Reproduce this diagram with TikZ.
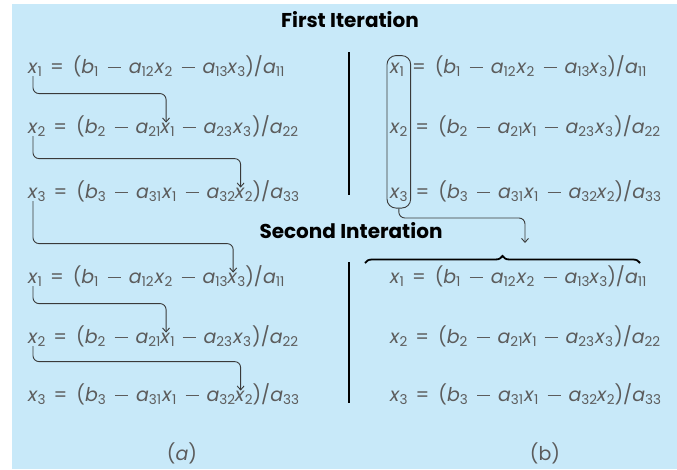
\documentclass[tikz,border=0pt]{standalone}
\usepackage{fontspec}
\setmainfont{Poppins}
\usetikzlibrary{arrows.meta,fit,decorations.pathreplacing,calc}
\definecolor{bg}{HTML}{C8E9F9}
\definecolor{eqc}{HTML}{5C5C5C}
\definecolor{arc}{HTML}{3A3A3A}
\newcommand\vv[2]{\textit{#1}\raisebox{-3pt}{\fontsize{13.5}{14}\selectfont #2}\hspace{1.2pt}}
\newcommand\mi{\hspace{8pt}\rule[5pt]{13pt}{1.1pt}\hspace{8pt}}
\newcommand\eqs{\hspace{8pt}=\hspace{9pt}}
\newcommand\eqrow[7]{%
  \node[eqtext, anchor=base west] (#1-l) at (#2,#3) {#4};
  \node[eqtext, anchor=base west] (#1-b) at (#1-l.base east) {#5};
  \node[eqtext, anchor=base west] (#1-t) at (#1-b.base east) {#6};
  \node[eqtext, anchor=base west] (#1-a) at (#1-t.base east) {#7};
}
\tikzset{
  eqtext/.style={inner sep=0pt, outer sep=0pt, text=eqc, font=\fontsize{19}{22}\selectfont},
  heading/.style={inner sep=0pt, text=black, font=\fontsize{20}{24}\selectfont\bfseries},
  arr/.style={draw=arc, line width=0.9pt, rounded corners=6pt, -{Straight Barb[length=4pt,width=7pt]}},
  divider/.style={draw=black, line width=1.2pt},
}
\begin{document}
\begin{tikzpicture}[x=1pt, y=-1pt]
\useasboundingbox (0,0) rectangle (677,469);
\fill[bg] (12,4) rectangle (677,469);
\node[heading] (h1) at (350,20) {First Iteration};
\node[heading] (h2) at (351,231) {Second Interation};
% left column
\eqrow{A1}{28}{73}{\vv{x}{1}}{\eqs(\vv{b}{1}\mi\vv{a}{12}\vv{x}{2}\mi\vv{a}{13}}{\vv{x}{3}}{)/\vv{a}{11}}
\eqrow{A2}{28}{133}{\vv{x}{2}}{\eqs(\vv{b}{2}\mi\vv{a}{21}}{\vv{x}{1}}{\mi\vv{a}{23}\vv{x}{3})/\vv{a}{22}}
\eqrow{A3}{28}{198}{\vv{x}{3}}{\eqs(\vv{b}{3}\mi\vv{a}{31}\vv{x}{1}\mi\vv{a}{32}}{\vv{x}{2}}{)/\vv{a}{33}}
\eqrow{B1}{28}{283}{\vv{x}{1}}{\eqs(\vv{b}{1}\mi\vv{a}{12}\vv{x}{2}\mi\vv{a}{13}}{\vv{x}{3}}{)/\vv{a}{11}}
\eqrow{B2}{28}{343}{\vv{x}{2}}{\eqs(\vv{b}{2}\mi\vv{a}{21}}{\vv{x}{1}}{\mi\vv{a}{23}\vv{x}{3})/\vv{a}{22}}
\eqrow{B3}{28}{401}{\vv{x}{3}}{\eqs(\vv{b}{3}\mi\vv{a}{31}\vv{x}{1}\mi\vv{a}{32}}{\vv{x}{2}}{)/\vv{a}{33}}
% right column
\eqrow{C1}{390}{73}{\vv{x}{1}}{\eqs(\vv{b}{1}\mi\vv{a}{12}\vv{x}{2}\mi\vv{a}{13}}{\vv{x}{3}}{)/\vv{a}{11}}
\eqrow{C2}{390}{133}{\vv{x}{2}}{\eqs(\vv{b}{2}\mi\vv{a}{21}}{\vv{x}{1}}{\mi\vv{a}{23}\vv{x}{3})/\vv{a}{22}}
\eqrow{C3}{390}{198}{\vv{x}{3}}{\eqs(\vv{b}{3}\mi\vv{a}{31}\vv{x}{1}\mi\vv{a}{32}}{\vv{x}{2}}{)/\vv{a}{33}}
\eqrow{D1}{390}{283}{\vv{x}{1}}{\eqs(\vv{b}{1}\mi\vv{a}{12}\vv{x}{2}\mi\vv{a}{13}}{\vv{x}{3}}{)/\vv{a}{11}}
\eqrow{D2}{390}{343}{\vv{x}{2}}{\eqs(\vv{b}{2}\mi\vv{a}{21}}{\vv{x}{1}}{\mi\vv{a}{23}\vv{x}{3})/\vv{a}{22}}
\eqrow{D3}{390}{401}{\vv{x}{3}}{\eqs(\vv{b}{3}\mi\vv{a}{31}\vv{x}{1}\mi\vv{a}{32}}{\vv{x}{2}}{)/\vv{a}{33}}
% labels
\node[eqtext, anchor=center] (la) at (182,453) {(\textit{a})};
\node[eqtext, anchor=center] (lb) at (545,453) {(b)};
% dividers
\coordinate (d1) at (349,52); \coordinate (d2) at (349,195);
\coordinate (d3) at (349,262); \coordinate (d4) at (349,403);
\draw[divider] (d1) -- (d2);
\draw[divider] (d3) -- (d4);
% left arrows
\draw[arr] ([xshift=5pt]A1-l.south west) |- ($([xshift=5.5pt]A2-t.north west)+(0,-29)$) -- ([xshift=5.5pt]A2-t.north west);
\draw[arr] ([xshift=5pt]A2-l.south west) |- ($([xshift=5.5pt]A3-t.north west)+(0,-29)$) -- ([xshift=5.5pt]A3-t.north west);
\draw[arr] ([xshift=5pt]A3-l.south west) |- ($([xshift=5.5pt]B1-t.north west)+(0,-29)$) -- ([xshift=5.5pt]B1-t.north west);
\draw[arr] ([xshift=5pt]B1-l.south west) |- ($([xshift=5.5pt]B2-t.north west)+(0,-29)$) -- ([xshift=5.5pt]B2-t.north west);
\draw[arr] ([xshift=5pt]B2-l.south west) |- ($([xshift=5.5pt]B3-t.north west)+(0,-29)$) -- ([xshift=5.5pt]B3-t.north west);
% right box, arrow and brace
\node[draw=arc, line width=0.9pt, rounded corners=9pt, inner xsep=3pt, inner ysep=7pt, fit=(C1-l)(C3-l)] (box) {};
\coordinate (tip) at (525,243);
\draw[arr] (box.south) |- ($(tip)+(0,-25)$) -- (tip);
\coordinate (br1) at (365,263);
\coordinate (br2) at (640,263);
\draw[line width=1.8pt, decorate, decoration={brace, amplitude=7pt}] (br1) -- (br2);
\end{tikzpicture}
\end{document}
